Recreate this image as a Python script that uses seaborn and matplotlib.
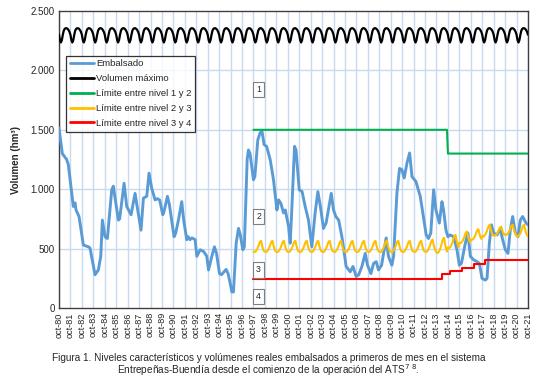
import numpy as np
import pandas as pd
import matplotlib
matplotlib.use("Agg")
import matplotlib.pyplot as plt
import seaborn as sns

# ---------------- data ----------------
# Embalsado: (years after oct-80, hm3)
emb_t = [0.00, 0.29, 0.67, 0.82, 1.25, 1.40, 1.49, 1.75, 2.13, 2.57, 2.71, 3.15, 3.44, 3.65, 3.79,
         4.02, 4.23, 4.61, 4.75, 5.19, 5.30, 5.69, 5.92, 6.30, 6.65, 6.88, 7.17, 7.38, 7.67, 7.87,
         8.10, 8.40, 8.60, 8.80, 9.07, 9.15, 9.48, 9.65, 10.06, 10.20, 10.44, 10.73, 10.90, 11.17,
         11.30, 11.45, 11.62, 11.90, 12.05, 12.34, 12.65, 12.92, 13.07, 13.36, 13.59, 13.77, 14.03,
         14.20, 14.61, 14.78, 14.96, 15.11, 15.25, 15.49, 15.69, 15.85, 16.07, 16.20, 16.30, 16.45,
         16.56, 16.70, 17.00, 17.12, 17.38, 17.58, 17.75, 17.93, 18.15, 18.46, 18.75, 19.05, 19.20,
         19.40, 19.63, 19.78, 20.07, 20.21, 20.35, 20.59, 20.72, 21.00, 21.25, 21.52, 21.81, 22.10,
         22.39, 22.63, 22.85, 23.12, 23.35, 23.55, 23.80, 24.00, 24.20, 24.45, 24.73, 24.90, 25.10,
         25.46, 25.70, 25.98, 26.20, 26.48, 26.77, 26.97, 27.27, 27.50, 27.73, 27.93, 28.20, 28.60,
         28.80, 29.10, 29.25, 29.54, 29.77, 29.97, 30.18, 30.42, 30.65, 30.86, 31.20, 31.58, 31.85,
         32.10, 32.30, 32.50, 32.75, 32.95, 33.25, 33.48, 33.62, 33.83, 34.00, 34.20, 34.50, 34.79,
         35.00, 35.18, 35.52, 35.75, 35.96, 36.25, 36.55, 36.75, 36.98, 37.27, 37.42, 37.62, 37.80,
         38.00, 38.30, 38.58, 38.72, 39.02, 39.25, 39.45, 39.66, 39.90, 40.12, 40.33, 40.53, 40.83,
         41.00]
emb_v = [1515, 1300, 1250, 1205, 855, 885, 825, 770, 530, 515, 505, 280, 320, 435, 740,
         600, 585, 995, 1025, 740, 750, 1050, 855, 785, 965, 825, 655, 925, 940, 1135,
         1010, 910, 920, 910, 785, 800, 940, 870, 600, 630, 740, 895, 740, 575,
         600, 575, 590, 575, 435, 490, 475, 435, 320, 435, 515, 460, 290,
         280, 325, 290, 210, 135, 135, 545, 670, 615, 490, 515, 800, 1250,
         1330, 1300, 1080, 1105, 1415, 1475, 1485, 1375, 1360, 1250, 1080, 825, 910,
         880, 800, 825, 685, 545, 825, 1360, 1330, 995, 980, 855, 740, 515,
         800, 980, 855, 670, 715, 825, 965, 825, 770, 740, 600, 490, 350,
         305, 350, 265, 280, 350, 460, 360, 290, 375, 390, 320, 360, 590,
         435, 360, 435, 965, 1175, 1165, 1095, 1220, 1305, 1105, 1065, 940, 770,
         615, 585, 630, 995, 825, 715, 895, 825, 655, 600, 615, 600, 490,
         360, 375, 545, 630, 435, 405, 390, 375, 250, 235, 250, 545, 700,
         630, 615, 670, 600, 490, 460, 655, 770, 630, 600, 740, 770, 715,
         700]

# Volumen maximo: monthly pattern (oct..sep), repeated every year oct-80 .. oct-21
vmax_month = [2300, 2255, 2235, 2255, 2300, 2335, 2350, 2355, 2355, 2350, 2340, 2325]

# Limite nivel 1-2 (step): start year offset, value
n12_t = [17.0, 33.92, 34.0, 41.0]
n12_v = [1500, 1500, 1300, 1300]

# Limite nivel 2-3: yearly trough / peak for water years 97/98 .. 20/21, monthly shape (oct..sep)
n23_trough = [470] * 16 + [462, 503, 545, 573, 601, 608, 615, 601]
n23_peak = [565] * 15 + [575, 590, 615, 643, 663, 700, 685, 700, 700]
n23_shape = [0.05, 0.0, 0.05, 0.15, 0.3, 0.5, 0.75, 0.95, 1.0, 0.6, 0.3, 0.1]

# Limite nivel 3-4 (step)
n34_t = [17.0, 33.48, 34.2, 35.23, 36.25, 37.27, 41.0]
n34_v = [245, 287, 312, 334, 368, 400, 400]

year_labels = ["oct-%02d" % (y % 100) for y in range(1980, 2022)]
box_labels = ["1", "2", "3", "4"]
box_vals = [1840, 767, 320, 95]

START = 1980.75

# ---------------- build frames ----------------
df_emb = pd.DataFrame({"t": START + np.array(emb_t), "v": emb_v})

n_months = 41 * 12 + 1
vmax_vals = (vmax_month * 42)[:n_months]
df_max = pd.DataFrame({"t": START + np.arange(n_months) / 12.0, "v": vmax_vals})

y23_t, y23_v = [], []
for k, (lo, hi) in enumerate(zip(n23_trough, n23_peak)):
    for m, s in enumerate(n23_shape):
        y23_t.append(START + 17 + k + m / 12.0)
        y23_v.append(lo + (hi - lo) * s)
y23_t.append(START + 41)
y23_v.append(n23_trough[-1] + (n23_peak[-1] - n23_trough[-1]) * n23_shape[0])
df_23 = pd.DataFrame({"t": y23_t, "v": y23_v})

df_12 = pd.DataFrame({"t": START + np.array(n12_t), "v": n12_v})

# ---------------- plotting ----------------
sns.set_style("white")
plt.rcParams["font.family"] = ["Liberation Sans", "DejaVu Sans"]

fig = plt.figure(figsize=(5.37, 3.83), dpi=100)
ax = fig.add_axes([59 / 537, 1 - 308 / 383, (528 - 59) / 537, (308 - 11) / 383])

grid_c = "#c9daf0"
for k in range(42):
    ax.axvline(START + k, color=grid_c, lw=1.0, zorder=0)
for yv in range(500, 2500, 500):
    ax.axhline(yv, color=grid_c, lw=1.0, zorder=0)

c_blue = "#5b9bd5"
c_green = "#00b050"
c_yel = "#ffc000"
c_red = "#ff0000"

sns.lineplot(data=df_emb, x="t", y="v", ax=ax, color=c_blue, lw=2.1, label="Embalsado", zorder=3)
sns.lineplot(data=df_max, x="t", y="v", ax=ax, color="black", lw=1.6, label="Volumen máximo", zorder=3)
sns.lineplot(data=df_12, x="t", y="v", ax=ax, color=c_green, lw=1.5, label="Límite entre nivel 1 y 2", zorder=3)
sns.lineplot(data=df_23, x="t", y="v", ax=ax, color=c_yel, lw=1.5, label="Límite entre nivel 2 y 3", zorder=4)
ax.step(START + np.array(n34_t), n34_v, where="post", color=c_red, lw=1.5,
        label="Límite entre nivel 3 y 4", zorder=4)

ax.set_xlim(START, START + 41)
ax.set_ylim(0, 2500)
ax.set_xticks([START + k for k in range(42)])
ax.set_xticklabels(year_labels, rotation=90, fontsize=6.6)
ax.set_yticks(range(0, 2501, 500))
ax.set_yticklabels([("{:,}".format(v)).replace(",", ".") for v in range(0, 2501, 500)], fontsize=7)
ax.tick_params(axis="both", length=0, pad=3)
ax.set_xlabel("")
ax.set_ylabel("Volumen (hm³)", fontsize=7, fontweight="bold", labelpad=7)

for sp in ax.spines.values():
    sp.set_color("#404040")
    sp.set_linewidth(1.0)

for lab, yv in zip(box_labels, box_vals):
    ax.text(START + 17.45, yv, lab, fontsize=6.3, ha="center", va="center", zorder=5,
            bbox=dict(boxstyle="square,pad=0.35", fc="white", ec="#7f7f7f", lw=0.8))

leg = ax.legend(loc="upper left", bbox_to_anchor=(0.015, 0.85), fontsize=6.8, frameon=True,
                fancybox=False, edgecolor="black", handlelength=2.6, handletextpad=0.15,
                labelspacing=0.62, borderpad=0.4, borderaxespad=0)
leg.get_frame().set_linewidth(0.9)
for h in leg.get_lines():
    h.set_linewidth(2.0)

fig.text(0.5, 1 - 358 / 383,
         "Figura 1. Niveles característicos y volúmenes reales embalsados a primeros de mes en el sistema",
         ha="center", va="center", fontsize=7.2)
fig.text(0.5, 1 - 370 / 383,
         "Entrepeñas-Buendía desde el comienzo de la operación del ATS$^{7\\ 8}$.",
         ha="center", va="center", fontsize=7.2)

fig.savefig("out.png", dpi=100)
